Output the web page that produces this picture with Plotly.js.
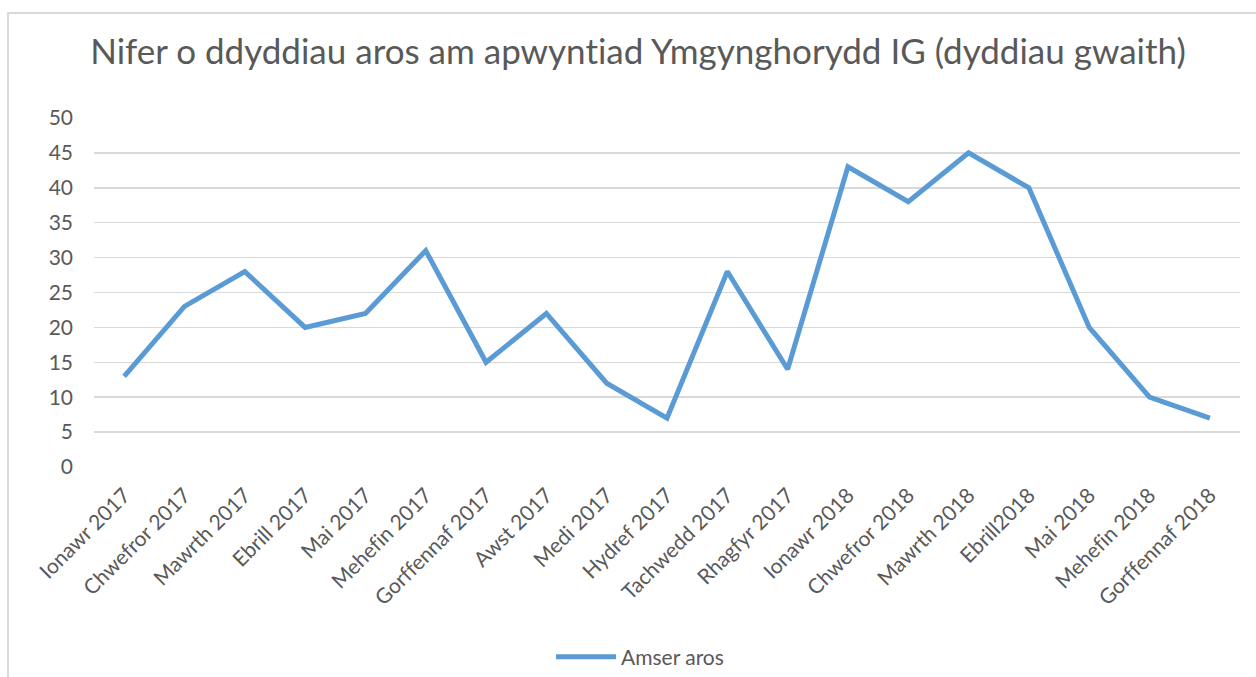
<!DOCTYPE html>
<html>
<head>
<meta charset="utf-8">
<script src="https://cdn.plot.ly/plotly-3.0.1.min.js"></script>
<style>
  html, body { margin: 0; padding: 0; background: #ffffff; overflow: hidden; }
  #chart { position: absolute; left: 0; top: 0; width: 1256px; height: 677px; }
  #chart text { font-variant-ligatures: none; font-feature-settings: "liga" 0, "clig" 0; }
  #frame { position: absolute; left: 7px; top: 12px; width: 1300px; height: 700px;
           border: 2px solid #d9d9d9; pointer-events: none; box-sizing: border-box; }
</style>
</head>
<body>
<div id="chart"></div>
<div id="frame"></div>
<script>
const categories = [
  "Ionawr 2017", "Chwefror 2017", "Mawrth 2017", "Ebrill 2017", "Mai 2017",
  "Mehefin 2017", "Gorffennaf 2017", "Awst 2017", "Medi 2017", "Hydref 2017",
  "Tachwedd 2017", "Rhagfyr 2017", "Ionawr 2018", "Chwefror 2018", "Mawrth 2018",
  "Ebrill2018", "Mai 2018", "Mehefin 2018", "Gorffennaf 2018"
];
const waitDays = [13, 23, 28, 20, 22, 31, 15, 22, 12, 7, 28, 14, 43, 38, 45, 40, 20, 10, 7];
const seriesName = "Amser aros";
const chartTitle = "Nifer o ddyddiau aros am apwyntiad Ymgynghorydd IG (dyddiau gwaith)";
const yTicks = [0, 5, 10, 15, 20, 25, 30, 35, 40, 45, 50];

const W = 1256, H = 677;
const margin = { l: 94, r: 16, t: 118, b: 210 };
const fontFam = "Lato, 'Noto Sans', sans-serif";

const trace = {
  type: "scatter",
  mode: "lines",
  x: categories,
  y: waitDays,
  name: seriesName,
  line: { color: "#5B9BD5", width: 5, shape: "linear" },
  hoverinfo: "x+y"
};

const layout = {
  width: W, height: H,
  margin: margin,
  paper_bgcolor: "#ffffff",
  plot_bgcolor: "#ffffff",
  font: { family: fontFam, color: "#595959", size: 21 },
  title: {
    text: chartTitle,
    font: { family: fontFam, size: 35, color: "#595959" },
    x: 638 / W, xanchor: "center", xref: "container",
    y: 1 - 52 / H, yanchor: "middle", yref: "container"
  },
  showlegend: true,
  legend: {
    orientation: "h",
    xref: "container", yref: "container",
    x: 640 / W, xanchor: "center",
    y: 1 - 657 / H, yanchor: "middle",
    font: { family: fontFam, size: 21, color: "#595959" },
    itemwidth: 60
  },
  xaxis: {
    type: "category",
    range: [-0.5, categories.length - 0.5],
    tickangle: -45,
    showgrid: false,
    zeroline: false,
    showline: false,
    ticks: "",
    automargin: false,
    ticklabelstandoff: 11,
    tickfont: { family: fontFam, size: 21, color: "#595959" },
    fixedrange: true
  },
  yaxis: {
    range: [0, 50],
    tickvals: yTicks,
    ticktext: yTicks.map(String),
    showgrid: true,
    gridcolor: "#d9d9d9",
    gridwidth: 1.5,
    zeroline: false,
    showline: false,
    ticks: "",
    automargin: false,
    ticklabelstandoff: 20,
    tickfont: { family: fontFam, size: 21, color: "#595959" },
    fixedrange: true
  }
};

Plotly.newPlot("chart", [trace], layout, { displayModeBar: false, staticPlot: true });
</script>
</body>
</html>
